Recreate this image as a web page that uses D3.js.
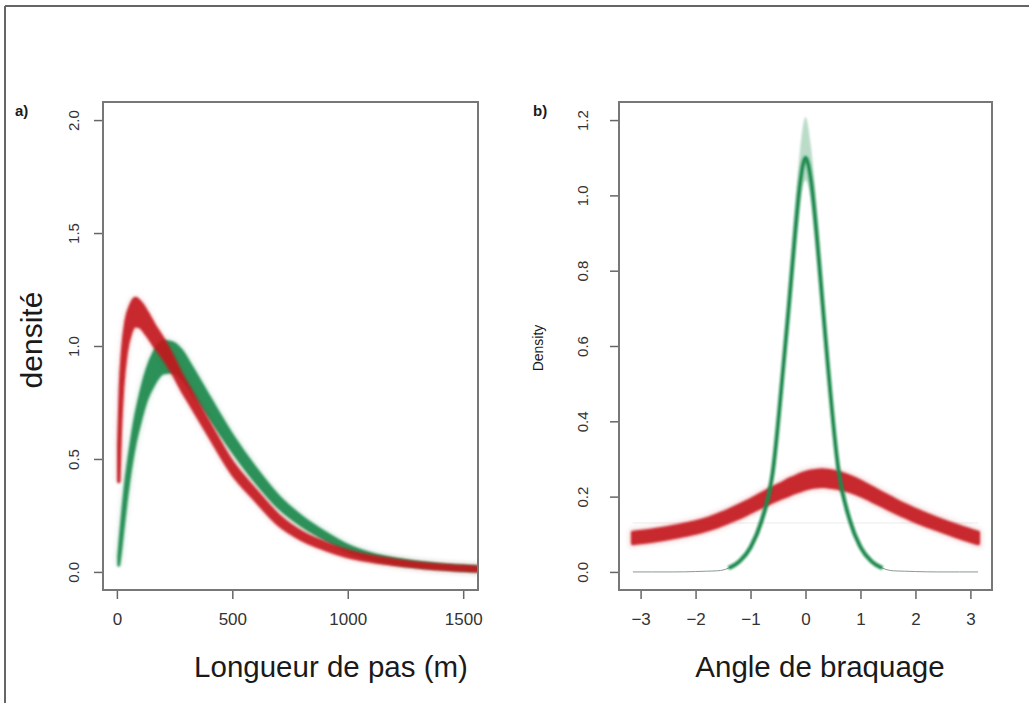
<!DOCTYPE html>
<html>
<head>
<meta charset="utf-8">
<script src="https://cdn.jsdelivr.net/npm/d3@7/dist/d3.min.js"></script>
<style>
  html, body { margin: 0; padding: 0; background: #fff; }
  svg { display: block; font-family: "Liberation Sans", Arial, Helvetica, sans-serif; }
</style>
</head>
<body>
<svg id="chart" width="1029" height="703"></svg>
<script>
// ---------------- DATA ----------------
// Panel a) step length (m)
const stepX      = [8, 15, 25, 40, 60, 80, 100, 130, 160, 200, 240, 280, 320, 400, 500, 600, 700, 800, 900, 1000, 1100, 1200, 1300, 1400, 1500, 1560];
const stepRed    = [0.48, 0.72, 0.90, 1.04, 1.12, 1.15, 1.14, 1.10, 1.05, 0.99, 0.92, 0.84, 0.77, 0.63, 0.46, 0.34, 0.23, 0.16, 0.115, 0.08, 0.058, 0.043, 0.031, 0.022, 0.016, 0.013];
const stepRedSpread = [0.08, 0.09, 0.08, 0.07, 0.06, 0.06, 0.055, 0.05, 0.045, 0.04, 0.035, 0.032, 0.03, 0.028, 0.025, 0.022, 0.02, 0.016, 0.014, 0.012, 0.01, 0.009, 0.008, 0.008, 0.008, 0.008];
const stepGreen  = [0.05, 0.12, 0.22, 0.36, 0.51, 0.63, 0.72, 0.83, 0.90, 0.95, 0.95, 0.92, 0.86, 0.73, 0.57, 0.43, 0.31, 0.225, 0.16, 0.105, 0.07, 0.048, 0.034, 0.024, 0.017, 0.014];
const stepGreenSpread = [0.02, 0.035, 0.045, 0.05, 0.05, 0.055, 0.06, 0.065, 0.07, 0.07, 0.065, 0.06, 0.055, 0.045, 0.035, 0.03, 0.025, 0.02, 0.016, 0.013, 0.011, 0.01, 0.009, 0.008, 0.008, 0.008];
const stepTicksX = [0, 500, 1000, 1500];
const stepTicksY = [0.0, 0.5, 1.0, 1.5, 2.0];

// Panel b) turning angle (rad)
const angleX     = [-3.14, -2.8, -2.4, -2.0, -1.8, -1.6, -1.4, -1.2, -1.0, -0.8, -0.6, -0.4, -0.3, -0.2, -0.1, 0, 0.1, 0.2, 0.3, 0.4, 0.6, 0.8, 1.0, 1.2, 1.4, 1.6, 1.8, 2.0, 2.4, 2.8, 3.14];
const angleGreen = [0, 0, 0, 0.001, 0.002, 0.003, 0.01, 0.028, 0.065, 0.135, 0.26, 0.55, 0.71, 0.88, 1.03, 1.10, 1.04, 0.90, 0.73, 0.56, 0.27, 0.14, 0.066, 0.028, 0.01, 0.003, 0.002, 0.001, 0, 0, 0];
const angleGreenSpread = [0, 0, 0, 0, 0, 0, 0.002, 0.004, 0.006, 0.01, 0.015, 0.02, 0.03, 0.04, 0.05, 0.06, 0.05, 0.04, 0.03, 0.02, 0.015, 0.01, 0.006, 0.004, 0.002, 0, 0, 0, 0, 0, 0];
const angleRed   = [0.090, 0.096, 0.106, 0.118, 0.126, 0.136, 0.148, 0.161, 0.175, 0.190, 0.205, 0.218, 0.225, 0.231, 0.237, 0.242, 0.246, 0.248, 0.249, 0.248, 0.243, 0.234, 0.222, 0.207, 0.192, 0.177, 0.163, 0.150, 0.127, 0.106, 0.090];
const angleRedSpread = [0.014, 0.014, 0.014, 0.014, 0.014, 0.015, 0.015, 0.016, 0.016, 0.017, 0.018, 0.019, 0.02, 0.02, 0.021, 0.021, 0.021, 0.021, 0.021, 0.021, 0.02, 0.019, 0.018, 0.017, 0.016, 0.016, 0.015, 0.015, 0.014, 0.014, 0.014];
const angleTicksX = [-3, -2, -1, 0, 1, 2, 3];
const angleTicksY = [0.0, 0.2, 0.4, 0.6, 0.8, 1.0, 1.2];
const angleFaintLine = 0.13;

const RED = "#c4161e";
const GREEN = "#1d8a4e";

// ---------------- DRAW ----------------
const svg = d3.select("#chart");
const defs = svg.append("defs");
defs.append("filter").attr("id", "soft").attr("x", "-5%").attr("y", "-5%").attr("width", "110%").attr("height", "110%")
  .append("feGaussianBlur").attr("stdDeviation", 0.8);
defs.append("filter").attr("id", "halo").attr("x", "-10%").attr("y", "-10%").attr("width", "120%").attr("height", "120%")
  .append("feGaussianBlur").attr("stdDeviation", 2.5);

// outer frame (top & left visible)
svg.append("line").attr("x1", 5).attr("y1", 6).attr("x2", 1029).attr("y2", 6).attr("stroke", "#666").attr("stroke-width", 2);
svg.append("line").attr("x1", 5).attr("y1", 6).attr("x2", 5).attr("y2", 703).attr("stroke", "#666").attr("stroke-width", 2);

function padDomain(lo, hi) { const p = (hi - lo) * 0.04; return [lo - p, hi + p]; }

function panel(opt) {
  const g = svg.append("g");
  const x = d3.scaleLinear().domain(padDomain(opt.xMin, opt.xMax)).range([opt.left, opt.right]);
  const y = d3.scaleLinear().domain(padDomain(opt.yMin, opt.yMax)).range([opt.bottom, opt.top]);
  const clipId = "clip" + opt.id;
  defs.append("clipPath").attr("id", clipId).append("rect")
    .attr("x", opt.left).attr("y", opt.top).attr("width", opt.right - opt.left).attr("height", opt.bottom - opt.top);
  const plot = g.append("g").attr("clip-path", `url(#${clipId})`);

  // x axis
  const xa = g.append("g").attr("transform", `translate(0,${opt.bottom})`)
    .call(d3.axisBottom(x).tickValues(opt.xTicks).tickSize(9).tickPadding(14)
      .tickFormat(d => d3.format(opt.xFmt)(d).replace("-", "\u2212")));
  xa.select(".domain").remove();
  xa.selectAll("line").attr("stroke", "#666").attr("stroke-width", 1.5);
  xa.selectAll("text").attr("font-size", 17).attr("fill", "#333");

  // y axis
  const ya = g.append("g").attr("transform", `translate(${opt.left},0)`)
    .call(d3.axisLeft(y).tickValues(opt.yTicks).tickSize(9).tickFormat(d3.format(".1f")));
  ya.select(".domain").remove();
  ya.selectAll("line").attr("stroke", "#666").attr("stroke-width", 1.5);
  ya.selectAll("text").attr("x", 0).attr("dy", 0).attr("text-anchor", "middle")
    .attr("transform", `translate(${-opt.yLabOff},0) rotate(-90)`)
    .attr("font-size", 15).attr("fill", "#333");

  // box
  g.append("rect").attr("x", opt.left).attr("y", opt.top)
    .attr("width", opt.right - opt.left).attr("height", opt.bottom - opt.top)
    .attr("fill", "none").attr("stroke", "#777").attr("stroke-width", 2);

  // titles
  g.append("text").attr("x", opt.xTitleX).attr("y", 677).attr("text-anchor", "middle")
    .attr("font-size", 29.5).attr("fill", "#1a1a1a").text(opt.xTitle);
  g.append("text").attr("transform", `translate(${opt.yTitleX},${opt.yTitleY}) rotate(-90)`)
    .attr("text-anchor", "middle").attr("font-size", opt.yTitleSize).attr("fill", "#1a1a1a").text(opt.yTitle);
  g.append("text").attr("x", opt.tagX).attr("y", 116).attr("font-size", 15).attr("font-weight", "bold")
    .attr("fill", "#1a1a1a").text(opt.tag);

  return { x, y, plot };
}

function band(p, xs, mid, spread, color, opts) {
  const pts = xs.map((v, i) => ({ x: v, m: mid[i], s: spread[i] }));
  const area = d3.area().curve(d3.curveMonotoneX)
    .x(d => p.x(d.x)).y0(d => p.y(d.m - d.s)).y1(d => p.y(d.m + d.s));
  // faint halo
  p.plot.append("path").datum(pts).attr("d", area).attr("fill", color)
    .attr("stroke", color).attr("stroke-width", opts.halo).attr("opacity", 0.15).attr("filter", "url(#halo)");
  p.plot.append("path").datum(pts).attr("d", area).attr("fill", color)
    .attr("stroke", color).attr("stroke-width", opts.core).attr("stroke-linejoin", "round")
    .attr("opacity", opts.opacity).attr("filter", "url(#soft)");
}

// Panel a
const pa = panel({
  id: "a", left: 103, right: 478, top: 102, bottom: 590,
  xMin: 0, xMax: 1504, yMin: 0, yMax: 2,
  xTicks: stepTicksX, yTicks: stepTicksY, xFmt: "d", yLabOff: 24,
  xTitle: "Longueur de pas (m)", xTitleX: 331,
  yTitle: "densité", yTitleX: 42, yTitleY: 340, yTitleSize: 30,
  tag: "a)", tagX: 15
});
band(pa, stepX, stepGreen, stepGreenSpread, GREEN, { core: 3, halo: 6, opacity: 0.92 });
band(pa, stepX, stepRed, stepRedSpread, RED, { core: 3.5, halo: 6, opacity: 0.9 });

// Panel b
const pb = panel({
  id: "b", left: 619, right: 992, top: 102, bottom: 590,
  xMin: -Math.PI, xMax: Math.PI, yMin: 0, yMax: 1.2,
  xTicks: angleTicksX, yTicks: angleTicksY, xFmt: "d", yLabOff: 31,
  xTitle: "Angle de braquage", xTitleX: 820,
  yTitle: "Density", yTitleX: 543, yTitleY: 348, yTitleSize: 14,
  tag: "b)", tagX: 533
});
// faint reference line
pb.plot.append("line").attr("x1", pb.x(-Math.PI)).attr("x2", pb.x(Math.PI))
  .attr("y1", pb.y(angleFaintLine)).attr("y2", pb.y(angleFaintLine))
  .attr("stroke", "#ececec").attr("stroke-width", 1);
// thin base of green curve across the whole range
pb.plot.append("path").datum(angleX.map((v, i) => ({ x: v, m: angleGreen[i] })))
  .attr("d", d3.line().curve(d3.curveMonotoneX).x(d => pb.x(d.x)).y(d => pb.y(d.m)))
  .attr("fill", "none").attr("stroke", "#8a9a90").attr("stroke-width", 1);
band(pb, angleX, angleRed, angleRedSpread, RED, { core: 4, halo: 8, opacity: 0.9 });
(function () {
  const pts = angleX.map((v, i) => ({ x: v, m: angleGreen[i], s: angleGreenSpread[i] }))
    .filter(d => d.m > 0.0045);
  const area = d3.area().curve(d3.curveMonotoneX)
    .x(d => pb.x(d.x)).y0(d => pb.y(d.m - d.s)).y1(d => pb.y(d.m + d.s * 1.8));
  const line = d3.line().curve(d3.curveMonotoneX).x(d => pb.x(d.x)).y(d => pb.y(d.m));
  pb.plot.append("path").datum(pts).attr("d", area).attr("fill", GREEN).attr("opacity", 0.3).attr("filter", "url(#soft)");
  pb.plot.append("path").datum(pts).attr("d", line).attr("fill", "none").attr("stroke", GREEN)
    .attr("stroke-width", 4).attr("stroke-linejoin", "round").attr("opacity", 0.95).attr("filter", "url(#soft)");
})();
</script>
</body>
</html>
